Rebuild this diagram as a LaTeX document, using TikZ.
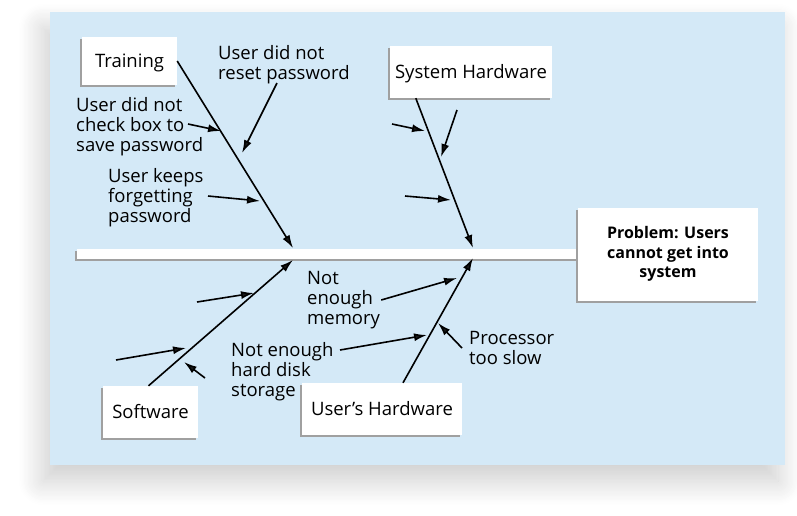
\documentclass[tikz,border=0pt]{standalone}
\usepackage{fontspec}
\setmainfont{Open Sans}
\usepackage{tikz}
\usetikzlibrary{arrows.meta,shadows,shadows.blur}
\definecolor{fishbg}{RGB}{212,233,247}
\definecolor{edgegray}{RGB}{160,160,160}
\tikzset{
  catbox/.style={rectangle,fill=white,inner sep=0pt,align=center,
    font=\fontsize{18.5}{20}\selectfont,
    drop shadow={shadow xshift=-2pt,shadow yshift=-2pt,fill=edgegray,opacity=1}},
  cause/.style={inner sep=0pt,align=left,anchor=west,
    font=\fontsize{18.5}{20}\selectfont},
  bone/.style={-{Latex[length=13pt,width=8pt]},line width=1.6pt},
  twig/.style={-{Latex[length=13pt,width=8pt]},line width=1.6pt},
}

\begin{document}
\begin{tikzpicture}[x=1pt,y=-1pt]
  \useasboundingbox (0,0) rectangle (797,515);
  \fill[fishbg,blur shadow={shadow xshift=-7pt,shadow yshift=-16pt,
        shadow blur radius=24pt,shadow blur steps=20,shadow opacity=20}]
        (50,12) rectangle (785,465);

  % spine and effect
  \node[catbox,minimum width=501pt,minimum height=10pt] (spine) at (327.5,254) {};
  \node[catbox,minimum width=180pt,minimum height=93pt,
        font=\bfseries\fontsize{16}{19.5}\selectfont]
        (prob) at (668,254) {Problem: Users\\cannot get into\\system};

  % categories
  \node[catbox,text depth=0pt,minimum width=95pt,minimum height=48pt] (train) at (129.5,61) {Training};
  \node[catbox,text depth=1pt,minimum width=162pt,minimum height=52pt] (syshw) at (471,72) {System Hardware};
  \node[catbox,minimum width=95pt,minimum height=52pt] (soft) at (150.5,412) {Software};
  \node[catbox,minimum width=160pt,minimum height=52pt] (userhw) at (382,409) {User’s Hardware};

  \coordinate (jtl) at (293,248);
  \coordinate (jtr) at (473,248);
  \coordinate (jbl) at (293,260);
  \coordinate (jbr) at (473,258);

  \draw[bone] (train.east) -- (jtl);
  \draw[bone] ([xshift=26pt]syshw.south west) -- (jtr);
  \draw[bone] ([xshift=-2pt]soft.north) -- (jbl);
  \draw[bone] ([xshift=21pt]userhw.north) -- (jbr);

  % causes
  \node[cause] (reset) at (218,64.5) {User did not\\reset password};
  \node[cause] (chkbox) at (76,126.2) {User did not\\check box to\\save password};
  \node[cause] (forget) at (108,197.2) {User keeps\\forgetting\\password};
  \node[cause] (memory) at (307,300) {Not\\enough\\memory};
  \node[cause] (disk) at (231,372) {Not enough\\hard disk\\storage};
  \node[cause] (cpu) at (469,348) {Processor\\too slow};

  % twig ends
  \coordinate (t1a) at (188,124);  \coordinate (t1b) at (221,131);
  \coordinate (t2a) at (277,83);   \coordinate (t2b) at (242,153);
  \coordinate (t3a) at (208,196);  \coordinate (t3b) at (260,201);
  \coordinate (s1a) at (392,124);  \coordinate (s1b) at (425,131);
  \coordinate (s2a) at (457,110);  \coordinate (s2b) at (441,157);
  \coordinate (s3a) at (405,196);  \coordinate (s3b) at (451,200);
  \coordinate (w1a) at (197,302);  \coordinate (w1b) at (254,293);
  \coordinate (w2a) at (116,360);  \coordinate (w2b) at (186,348);
  \coordinate (w3a) at (205,378);  \coordinate (w3b) at (184,362);
  \coordinate (u1b) at (457,278);
  \coordinate (u2a) at (340,350);  \coordinate (u2b) at (427,335);
  \coordinate (u3a) at (462,348);  \coordinate (u3b) at (438,323);

  \foreach \a/\b in {t1a/t1b,t2a/t2b,t3a/t3b,s1a/s1b,s2a/s2b,s3a/s3b,
                     w1a/w1b,w2a/w2b,w3a/w3b,u2a/u2b,u3a/u3b}
    \draw[twig] (\a) -- (\b);
  \draw[twig] ([xshift=1pt]memory.east) -- (u1b);
\end{tikzpicture}
\end{document}
